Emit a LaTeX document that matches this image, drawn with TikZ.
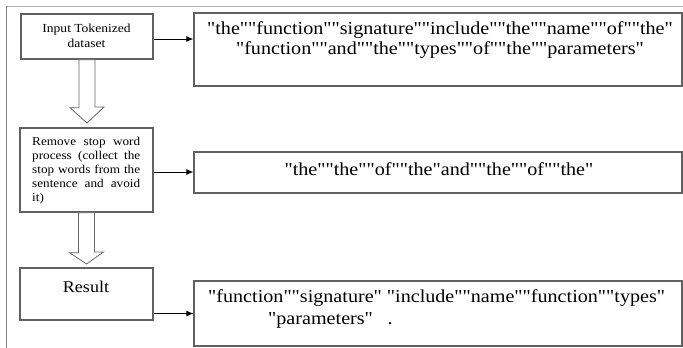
\documentclass[tikz,border=0pt]{standalone}
\usepackage{fontspec}
\setmainfont{Liberation Serif}[Ligatures=TeXOff,FakeStretch=1.1]
\usetikzlibrary{arrows.meta,calc}
\begin{document}
\begin{tikzpicture}[x=1pt,y=-1pt,
  box/.style={draw=black!62,line width=1.3pt,minimum width=#1,inner sep=0pt},
  lbox/.style={box=133pt},
  rbox/.style={box=488pt},
  link/.style={draw=black,line width=0.9pt,-{Latex[length=7pt,width=6pt]}},
  hollow/.style={draw=black!60,line width=0.8pt,fill=white},
  body/.style={font=\fontsize{18.3}{20}\selectfont,inner sep=0pt,align=center}]
\useasboundingbox (0,0) rectangle (683,348);
% page frame
\draw[black!30,line width=0.8pt] (6,6) -- (683,6);
\draw[black!50,line width=0.8pt] (6,6) -- (6,348);

% left column
\node[box=132pt,minimum height=45pt] (b1) at (87,36.5) {};
\node[lbox,minimum height=84pt] (b2) at (86.5,170) {};
\node[lbox,minimum height=52pt] (b3) at (86.5,294) {};
\node[font=\fontsize{12.3}{14.5}\selectfont,align=center,inner sep=0pt] (t1) at (86.5,36) {Input Tokenized\\dataset};
\node[font=\fontsize{12}{14}\selectfont,align=left,inner sep=0pt,anchor=north west] (t2) at (32,137)
  {\makebox[108pt][s]{Remove stop word}\\\makebox[108pt][s]{process (collect the}\\\makebox[108pt][s]{stop words from the}\\\makebox[108pt][s]{sentence and avoid}\\it)};
\node[font=\fontsize{16.4}{20}\selectfont,inner sep=0pt] (t3) at (86,287) {Result};

% right column
\node[rbox,minimum height=73pt] (bA) at (438,49.5) {};
\node[rbox,minimum height=41pt] (bB) at (438,172.5) {};
\node[rbox,minimum height=65pt] (bC) at (438,313.5) {};
\node[body] (tA) at (440,40) {"the""function""signature""include""the""name""of""the"\\"function""and""the""types""of""the""parameters"};
\node[body] (tB) at (439,169) {"the""the""of""the"and""the""of""the"};
\node[body,anchor=west] (tC1) at (208,298) {"function""signature" "include""name""function""types"};
\node[body,anchor=west] (tC2) at (268,320) {"parameters"\hspace{0.8em}.};

% connectors
\draw[link] ([yshift=-2.5pt]b1.east) -- ([yshift=-2.5pt]b1.east -| bA.west);
\draw[link] ([yshift=-2pt]b2.east) -- ([yshift=-2pt]b2.east -| bB.west);
\draw[link] (b3.east |- bC.west) -- (bC.west);

% hollow block arrows between steps
\draw[hollow] ([xshift=-8pt]b1.south) -- ++(0,48) -- ++(-9,0) -- (b1.south |- 0,123) -- ++(17,-16) -- ++(-9,0) -- ([xshift=8pt]b1.south) -- cycle;
\draw[hollow] ([xshift=-8pt]b2.south) -- ++(0,40) -- ++(-9,0) -- (b2.south |- 0,264) -- ++(17,-12) -- ++(-9,0) -- ([xshift=8pt]b2.south) -- cycle;
\end{tikzpicture}
\end{document}
